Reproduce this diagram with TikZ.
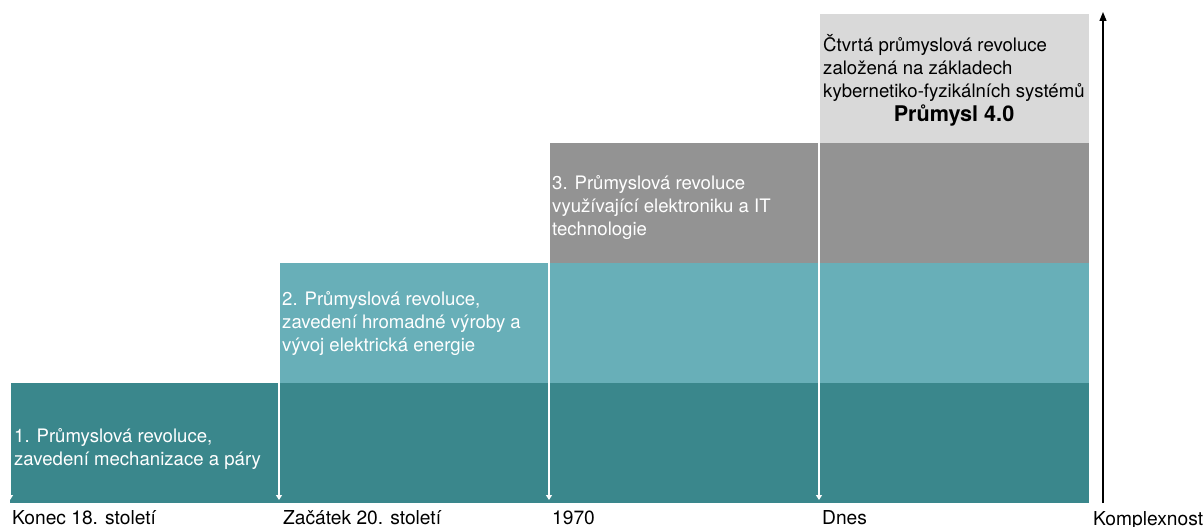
\documentclass[tikz,border=0pt]{standalone}
\usepackage{fontspec}
\setmainfont{TeX Gyre Heros}
\usetikzlibrary{arrows.meta}
\definecolor{tealdark}{HTML}{3A878C}
\definecolor{teallight}{HTML}{68AFB8}
\definecolor{graymid}{HTML}{939393}
\definecolor{graylight}{HTML}{D9D9D9}
\tikzset{
  band/.style={anchor=north west, inner sep=0pt, outer sep=0pt, minimum height=120pt},
  bandtext/.style={anchor=base west, inner sep=0pt, align=left, font=\fontsize{18.6}{22.8}\selectfont},
  datelabel/.style={anchor=base west, inner sep=0pt, font=\fontsize{19.2}{22}\selectfont},
  timearrow/.style={white, line width=1.2pt, -{Triangle[width=6pt,length=5pt]}},
}
\begin{document}
\begin{tikzpicture}[x=1pt,y=-1pt]
\useasboundingbox (0,0) rectangle (1203,527);
% steps of the stair
\node[band, fill=tealdark, minimum width=1079pt] (b1) at (10,383) {};
\node[band, fill=teallight, minimum width=810pt] (b2) at (279,263) {};
\node[band, fill=graymid, minimum width=540pt] (b3) at (549,143) {};
\node[band, fill=graylight, minimum width=270pt, minimum height=129pt] (b4) at (819,14) {};
% texts in the steps (placed at the baseline of their last line)
\node[bandtext, white] (t1) at (14,465.5) {1. Průmyslová revoluce,\\zavedení mechanizace a páry};
\node[bandtext, white] (t2) at (282,351) {2. Průmyslová revoluce,\\zavedení hromadné výroby a\\vývoj elektrická energie};
\node[bandtext, white] (t3) at (552,235.5) {3. Průmyslová revoluce\\využívající elektroniku a IT\\technologie};
\node[bandtext] (t4) at (823,97) {Čtvrtá průmyslová revoluce\\založená na základech\\kybernetiko-fyzikálních systémů};
\node[anchor=base, inner sep=0pt, font=\fontsize{21.6}{24}\selectfont\bfseries] (t5) at (954,121.5) {Průmysl 4.0};
% time marks
\coordinate (e1) at (10,500);
\coordinate (e2) at (279,500);
\coordinate (e3) at (549,500);
\coordinate (e4) at (819,500);
\draw[timearrow] (b1.north west) -- (e1);
\draw[timearrow] (b2.north west) -- (e2);
\draw[timearrow] (b3.north west) -- (e3);
\draw[timearrow] (b4.north west) -- (e4);
\node[datelabel] (d1) at (12,524) {Konec 18. století};
\node[datelabel] (d2) at (283,524) {Začátek 20. století};
\node[datelabel] (d3) at (552,524) {1970};
\node[datelabel] (d4) at (822,524) {Dnes};
% complexity axis
\coordinate (kbot) at (1103,503);
\coordinate (ktop) at (1103,12);
\draw[line width=1.3pt, -{Triangle[width=7pt,length=9pt]}] (kbot) -- (ktop);
\node[datelabel] (kx) at (1093,525) {Komplexnost};
\end{tikzpicture}
\end{document}
